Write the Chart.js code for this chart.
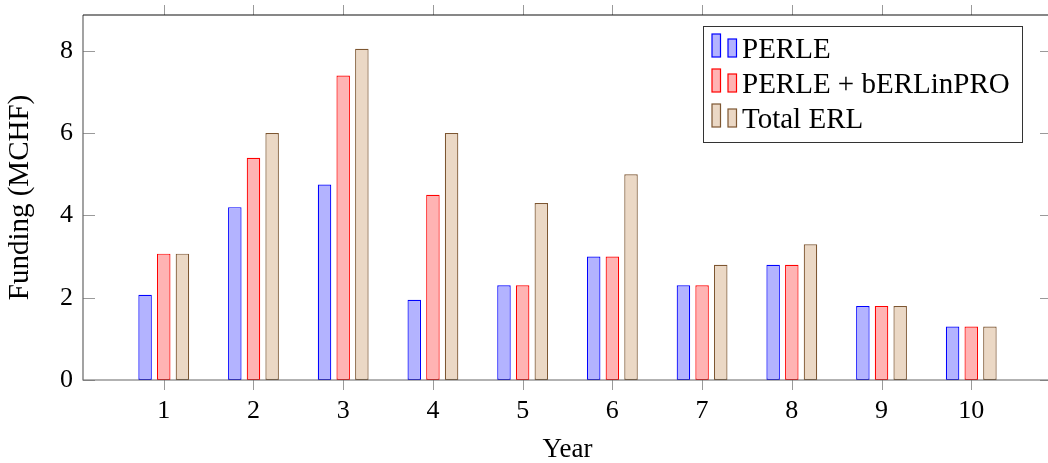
<!DOCTYPE html>
<html>
<head>
<meta charset="utf-8">
<script src="https://cdn.jsdelivr.net/npm/chart.js@4.4.1/dist/chart.umd.min.js"></script>
<style>
  html, body { margin: 0; padding: 0; background: #fff; overflow: hidden; }
  #wrap { width: 1048px; height: 463px; overflow: hidden; }
  canvas { display: block; }
</style>
</head>
<body>
<div id="wrap"><canvas id="chart" width="1056" height="463"></canvas></div>
<script>
// Funding per year in MCHF
const years = [1, 2, 3, 4, 5, 6, 7, 8, 9, 10];
const perle = [2.07, 4.2, 4.75, 1.95, 2.3, 3.0, 2.3, 2.8, 1.8, 1.3];
const perleBerlinpro = [3.07, 5.4, 7.4, 4.5, 2.3, 3.0, 2.3, 2.8, 1.8, 1.3];
const totalErl = [3.07, 6.0, 8.05, 6.0, 4.3, 5.0, 2.8, 3.3, 1.8, 1.3];
const yTicks = [0, 2, 4, 6, 8];

const serif = '"Liberation Serif", "Times New Roman", serif';
const tickGray = '#9a9a9a';

const toPoints = vals => vals.map((v, i) => ({x: years[i], y: v}));

// pgfplots look: box, inward y ticks, outward x ticks, legend with two little bars per entry
const framePlugin = {
    id: 'frame',
    afterDatasetsDraw(chart) {
        const {ctx, chartArea: a, scales: {x, y}} = chart;
        ctx.save();
        ctx.lineWidth = 1;
        ctx.strokeStyle = tickGray;
        ctx.beginPath();
        years.forEach(v => {
            const px = Math.round(x.getPixelForValue(v)) + 0.5;
            ctx.moveTo(px, a.bottom); ctx.lineTo(px, a.bottom + 10);
            ctx.moveTo(px, a.top - 10); ctx.lineTo(px, a.top);
        });
        yTicks.forEach(v => {
            const py = Math.round(y.getPixelForValue(v)) + 0.5;
            ctx.moveTo(a.left, py); ctx.lineTo(a.left + 12, py);
            ctx.moveTo(a.right - 12, py); ctx.lineTo(a.right, py);
        });
        ctx.stroke();

        // frame
        ctx.lineWidth = 1.2;
        ctx.strokeStyle = '#666';
        ctx.beginPath();
        ctx.moveTo(a.left, a.top); ctx.lineTo(a.left, a.bottom); ctx.lineTo(a.right, a.bottom); ctx.lineTo(a.right, a.top);
        ctx.stroke();
        ctx.strokeStyle = '#111';
        ctx.beginPath();
        ctx.moveTo(a.left, a.top); ctx.lineTo(a.right, a.top);
        ctx.stroke();

        // legend
        const lx = a.right - 348.5, ly = a.top + 11.5;
        ctx.fillStyle = '#fff';
        ctx.fillRect(lx, ly, 319, 116);
        ctx.lineWidth = 1;
        ctx.strokeStyle = '#333';
        ctx.strokeRect(lx, ly, 319, 116);
        ctx.font = '29px ' + serif;
        ctx.textBaseline = 'alphabetic';
        chart.data.datasets.forEach((ds, i) => {
            const base = ly + 30.5 + i * 35;
            ctx.fillStyle = ds.backgroundColor;
            ctx.strokeStyle = ds.borderColor;
            ctx.lineWidth = 1.2;
            ctx.fillRect(lx + 8.5, base - 23, 8.5, 23);
            ctx.strokeRect(lx + 8.5, base - 23, 8.5, 23);
            ctx.fillRect(lx + 24.5, base - 18, 8.5, 18);
            ctx.strokeRect(lx + 24.5, base - 18, 8.5, 18);
            ctx.fillStyle = '#000';
            ctx.fillText(ds.label, lx + 38.5, base + 1);
        });
        ctx.restore();
    }
};

new Chart(document.getElementById('chart'), {
    type: 'bar',
    data: {
        datasets: [
            {label: 'PERLE', data: toPoints(perle), backgroundColor: '#b3b3ff', borderColor: '#0000ff'},
            {label: 'PERLE + bERLinPRO', data: toPoints(perleBerlinpro), backgroundColor: '#ffb3b3', borderColor: '#ff0000'},
            {label: 'Total ERL', data: toPoints(totalErl), backgroundColor: '#ebd8c5', borderColor: '#7d5631'}
        ]
    },
    options: {
        responsive: false,
        animation: false,
        events: [],
        layout: {padding: {top: 15, right: 4, left: 0, bottom: 0}},
        datasets: {
            bar: {
                borderWidth: 1.2,
                borderSkipped: false,
                categoryPercentage: 0.624,
                barPercentage: 0.723
            }
        },
        plugins: {
            legend: {display: false},
            tooltip: {enabled: false}
        },
        scales: {
            x: {
                type: 'linear',
                offset: false,
                min: 0.1,
                max: 10.9,
                afterBuildTicks: s => { s.ticks = years.map(v => ({value: v})); },
                afterFit: s => { s.height = 83; s.paddingLeft = 0; s.paddingRight = 0; },
                grid: {display: false, drawTicks: false, offset: false},
                border: {display: false},
                ticks: {
                    color: '#000',
                    padding: 18,
                    autoSkip: false,
                    maxRotation: 0,
                    font: {family: serif, size: 26, lineHeight: 1}
                },
                title: {
                    display: true,
                    text: 'Year',
                    color: '#000',
                    padding: {top: 0, bottom: 0},
                    font: {family: serif, size: 27, lineHeight: 1}
                }
            },
            y: {
                min: 0,
                max: 8.87,
                afterBuildTicks: s => { s.ticks = yTicks.map(v => ({value: v})); },
                afterFit: s => { s.width = 83; s.paddingTop = 0; s.paddingBottom = 0; },
                grid: {display: false, drawTicks: false},
                border: {display: false},
                ticks: {
                    color: '#000',
                    padding: 10,
                    font: {family: serif, size: 26, lineHeight: 1}
                },
                title: {
                    display: true,
                    text: 'Funding (MCHF)',
                    color: '#000',
                    padding: {top: 6, bottom: 0},
                    font: {family: serif, size: 29, lineHeight: 1}
                }
            }
        }
    },
    plugins: [framePlugin]
});
</script>
</body>
</html>
